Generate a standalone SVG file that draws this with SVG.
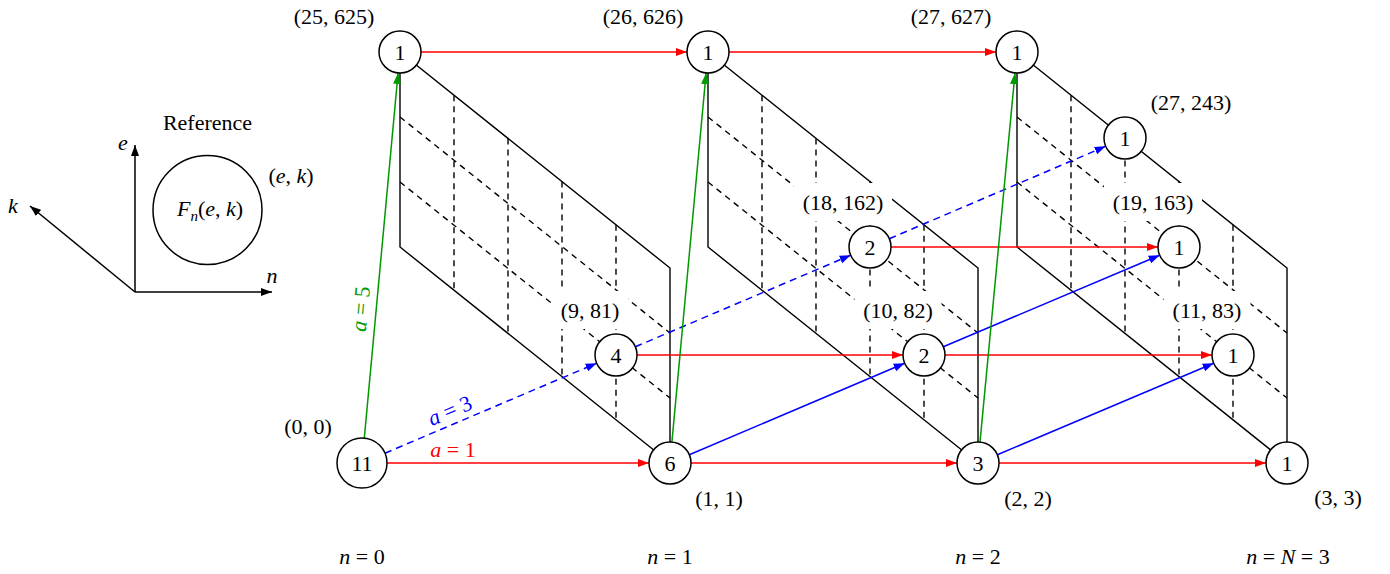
<svg xmlns="http://www.w3.org/2000/svg" width="1390" height="574" viewBox="0 0 1390 574">
<defs>
<style>
text{font-family:"Liberation Serif","DejaVu Serif",serif;font-size:22px;fill:#000}
.m{font-style:italic}
.c{text-anchor:middle}
.frame{stroke:#000;stroke-width:1.4;fill:none}
.grid{stroke:#000;stroke-width:1.4;stroke-dasharray:6 5;fill:none}
.lbl{fill:#fff;stroke:none}
.node circle{fill:#fff;stroke:#000;stroke-width:1.5}
.r{stroke:#f00;stroke-width:1.5;fill:none;marker-end:url(#ar)}
.b{stroke:#00f;stroke-width:1.5;fill:none;marker-end:url(#ab)}
.bd{stroke:#00f;stroke-width:1.5;fill:none;stroke-dasharray:7 5;marker-end:url(#ab)}
.g{stroke:#090;stroke-width:1.5;fill:none;marker-end:url(#ag)}
.ax{stroke:#000;stroke-width:1.5;fill:none;marker-end:url(#ak)}
</style>
<marker id="ar" markerUnits="userSpaceOnUse" markerWidth="12" markerHeight="9" refX="11" refY="4.5" orient="auto"><path d="M0,0.5 L11,4.5 L0,8.5 z" fill="#f00"/></marker>
<marker id="ab" markerUnits="userSpaceOnUse" markerWidth="12" markerHeight="9" refX="11" refY="4.5" orient="auto"><path d="M0,0.5 L11,4.5 L0,8.5 z" fill="#00f"/></marker>
<marker id="ag" markerUnits="userSpaceOnUse" markerWidth="12" markerHeight="9" refX="11" refY="4.5" orient="auto"><path d="M0,0.5 L11,4.5 L0,8.5 z" fill="#090"/></marker>
<marker id="ak" markerUnits="userSpaceOnUse" markerWidth="12" markerHeight="9" refX="11" refY="4.5" orient="auto"><path d="M0,0.5 L11,4.5 L0,8.5 z" fill="#000"/></marker>
</defs>
<rect width="1390" height="574" fill="#fff"/>

<g id="reference">
<line class="ax" x1="135" y1="292" x2="135" y2="145"/>
<line class="ax" x1="135" y1="292" x2="272" y2="292"/>
<line class="ax" x1="135" y1="292" x2="30" y2="206"/>
<text x="123" y="150" class="c m">e</text>
<text x="272" y="283" class="c m">n</text>
<text x="13" y="213" class="c m">k</text>
<circle cx="207.5" cy="210" r="54.5" fill="none" stroke="#000" stroke-width="1.5"/>
<text x="210" y="216" class="c"><tspan class="m">F</tspan><tspan class="m" font-size="15" dy="5">n</tspan><tspan dy="-5">(</tspan><tspan class="m">e</tspan>, <tspan class="m">k</tspan>)</text>
<text x="207.5" y="130" class="c">Reference</text>
<text x="291" y="183" class="c">(<tspan class="m">e</tspan>, <tspan class="m">k</tspan>)</text>
</g>

<g id="planes">
<path class="frame" d="M400,52 L400,247 L670,463 M400,52 L670,268 L670,463"/>
<path class="grid" d="M454,95.2 V290.2 M508,138.4 V333.4 M562,181.6 V376.6 M616,224.8 V419.8 M400,117 L670,333 M400,182 L670,398"/>
<path class="frame" d="M708,52 L708,247 L978,463 M708,52 L978,268 L978,463"/>
<path class="grid" d="M762,95.2 V290.2 M816,138.4 V333.4 M870,181.6 V376.6 M924,224.8 V419.8 M708,117 L978,333 M708,182 L978,398"/>
<path class="frame" d="M1017,52 L1017,247 L1287,463 M1017,52 L1287,268 L1287,463"/>
<path class="grid" d="M1071,95.2 V290.2 M1125,138.4 V333.4 M1179,181.6 V376.6 M1233,224.8 V419.8 M1017,117 L1287,333 M1017,182 L1287,398"/>
</g>

<g id="labels">
<rect class="lbl" x="552" y="291" width="76" height="38"/>
<rect class="lbl" x="854.5" y="291" width="87" height="38"/>
<rect class="lbl" x="1163.5" y="291" width="87" height="38"/>
<rect class="lbl" x="794" y="183" width="98" height="38"/>
<rect class="lbl" x="1104" y="183" width="98" height="38"/>
<rect class="lbl" x="1142" y="83" width="98" height="38"/>
<text x="334" y="24" class="c">(25, 625)</text>
<text x="643" y="24" class="c">(26, 626)</text>
<text x="951" y="24" class="c">(27, 627)</text>
<text x="1191" y="110" class="c">(27, 243)</text>
<text x="843" y="210" class="c">(18, 162)</text>
<text x="1153" y="210" class="c">(19, 163)</text>
<text x="590" y="318" class="c">(9, 81)</text>
<text x="898" y="318" class="c">(10, 82)</text>
<text x="1207" y="318" class="c">(11, 83)</text>
<text x="308" y="434" class="c">(0, 0)</text>
<text x="719" y="506" class="c">(1, 1)</text>
<text x="1028" y="506" class="c">(2, 2)</text>
<text x="1338" y="505" class="c">(3, 3)</text>
<text x="362" y="564" class="c"><tspan class="m">n</tspan> = 0</text>
<text x="670" y="564" class="c"><tspan class="m">n</tspan> = 1</text>
<text x="978" y="564" class="c"><tspan class="m">n</tspan> = 2</text>
<text x="1288" y="564" class="c"><tspan class="m">n</tspan> = <tspan class="m">N</tspan> = 3</text>
</g>

<g id="connectors">
<line class="r" x1="421" y1="52" x2="687" y2="52"/>
<line class="r" x1="729" y1="52" x2="996" y2="52"/>
<line class="r" x1="387" y1="463" x2="649" y2="463"/>
<line class="r" x1="691" y1="463" x2="957" y2="463"/>
<line class="r" x1="999" y1="463" x2="1266" y2="463"/>
<line class="r" x1="637" y1="355" x2="903" y2="355"/>
<line class="r" x1="945" y1="355" x2="1212" y2="355"/>
<line class="r" x1="891" y1="247" x2="1158" y2="247"/>
<line class="b" x1="689.3" y1="454.8" x2="904.7" y2="363.2"/>
<line class="b" x1="943.3" y1="346.8" x2="1159.7" y2="255.2"/>
<line class="b" x1="997.3" y1="454.8" x2="1213.7" y2="363.2"/>
<line class="bd" x1="385" y1="453.2" x2="596.7" y2="363.2"/>
<line class="bd" x1="635.3" y1="346.8" x2="850.7" y2="255.2"/>
<line class="bd" x1="889.3" y1="238.7" x2="1105.7" y2="146.3"/>
<line class="g" x1="364.3" y1="438.1" x2="398.1" y2="72.9"/>
<line class="g" x1="671.9" y1="442.1" x2="706.1" y2="73.1"/>
<line class="g" x1="980" y1="442.1" x2="1015" y2="73.1"/>
<text x="453" y="457" class="c" style="fill:#f00"><tspan class="m">a</tspan> = 1</text>
<text transform="translate(450,411) rotate(-23)" x="0" y="7" class="c" style="fill:#00f"><tspan class="m">a</tspan> = 3</text>
<text transform="translate(361,309) rotate(-84.7)" x="0" y="7" class="c" style="fill:#090"><tspan class="m">a</tspan> = 5</text>
</g>

<g id="node-0-0" class="node"><circle cx="362" cy="463" r="25"/><text x="362" y="471" class="c">11</text></g>
<g id="node-1-1" class="node"><circle cx="670" cy="463" r="21"/><text x="670" y="471" class="c">6</text></g>
<g id="node-2-2" class="node"><circle cx="978" cy="463" r="21"/><text x="978" y="471" class="c">3</text></g>
<g id="node-3-3" class="node"><circle cx="1287" cy="463" r="21"/><text x="1287" y="471" class="c">1</text></g>
<g id="node-25-625" class="node"><circle cx="400" cy="52" r="21"/><text x="400" y="60" class="c">1</text></g>
<g id="node-26-626" class="node"><circle cx="708" cy="52" r="21"/><text x="708" y="60" class="c">1</text></g>
<g id="node-27-627" class="node"><circle cx="1017" cy="52" r="21"/><text x="1017" y="60" class="c">1</text></g>
<g id="node-9-81" class="node"><circle cx="616" cy="355" r="21"/><text x="616" y="363" class="c">4</text></g>
<g id="node-18-162" class="node"><circle cx="870" cy="247" r="21"/><text x="870" y="255" class="c">2</text></g>
<g id="node-10-82" class="node"><circle cx="924" cy="355" r="21"/><text x="924" y="363" class="c">2</text></g>
<g id="node-27-243" class="node"><circle cx="1125" cy="138" r="21"/><text x="1125" y="146" class="c">1</text></g>
<g id="node-19-163" class="node"><circle cx="1179" cy="247" r="21"/><text x="1179" y="255" class="c">1</text></g>
<g id="node-11-83" class="node"><circle cx="1233" cy="355" r="21"/><text x="1233" y="363" class="c">1</text></g>
</svg>
